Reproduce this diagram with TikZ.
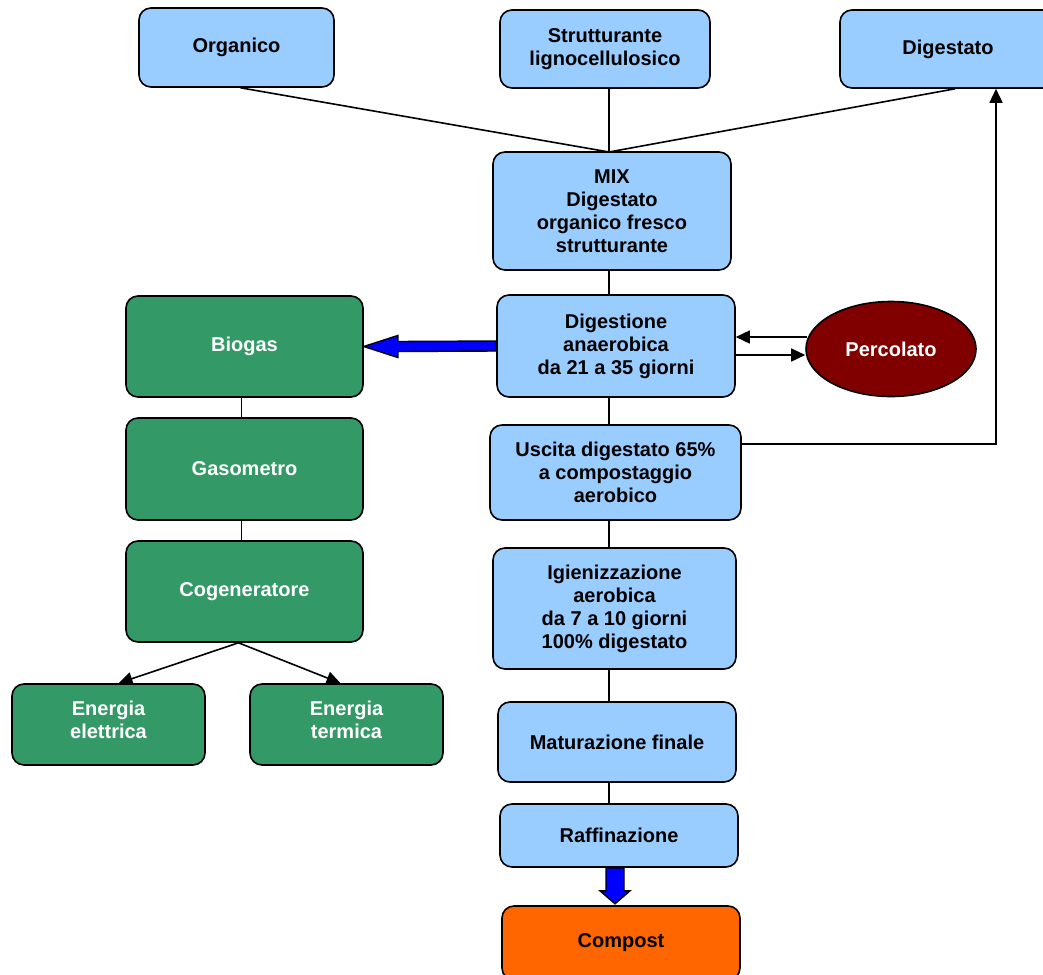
\documentclass[tikz,border=0pt]{standalone}
\usepackage{fontspec}
\setmainfont{Liberation Sans}
\usetikzlibrary{calc, arrows.meta, shapes.geometric}
\definecolor{cielo}{HTML}{99CCFF}
\definecolor{verde}{HTML}{339966}
\definecolor{bordeaux}{HTML}{800000}
\definecolor{arancio}{HTML}{FF6600}

\begin{document}
\begin{tikzpicture}[x=0.5pt, y=-0.5pt, line width=0.8pt,
    >={Triangle[length=7pt, width=6.5pt]},
    box/.style={draw, rounded corners=6pt, align=center, inner sep=0pt,
      font=\bfseries\fontsize{10}{11.5}\selectfont},
    sz/.style 2 args={minimum width=#1*0.5pt, minimum height=#2*0.5pt},
    fase/.style={box, fill=cielo},
    energia/.style={box, fill=verde, text=white},
    freccia/.style={draw=black, fill=blue, line width=0.7pt}]
  \useasboundingbox (0, 0) rectangle (1043, 974);
  % ingressi
  \node[fase, sz={195}{79}] (org) at (236.5, 47.5) {Organico};
  \node[fase, sz={210}{78}] (str) at (605, 49) {Strutturante\\lignocellulosico};
  \node[fase, sz={216}{78}] (dgt) at (948, 49) {Digestato};
  % linea centrale
  \node[fase, sz={238}{118}] (mix) at (612, 211) {MIX\\Digestato\\organico fresco\\strutturante};
  \node[fase, sz={238}{102}] (dig) at (616, 346) {Digestione\\anaerobica\\da 21 a 35 giorni};
  \node[ellipse, draw, fill=bordeaux, text=white, minimum width=85pt, minimum height=47.5pt,
    inner sep=0pt, font=\bfseries\fontsize{10}{11.5}\selectfont] (perc) at (891, 349) {Percolato};
  \node[fase, sz={251}{95}] (usc) at (615.5, 472.5) {Uscita digestato 65\%\\a compostaggio\\aerobico};
  \node[fase, sz={243}{121}] (igi) at (614.5, 608.5) {Igienizzazione\\aerobica\\da 7 a 10 giorni\\100\% digestato};
  \node[fase, sz={238}{80}] (mat) at (617, 742) {Maturazione finale};
  \node[fase, sz={238}{63}] (raf) at (619, 835.5) {Raffinazione};
  \node[box, fill=arancio, sz={238}{74}] (cmp) at (621, 943) {Compost};
  % ramo biogas
  \node[energia, sz={237}{101}] (bio) at (244.5, 346.5) {Biogas};
  \node[energia, sz={237}{102}] (gas) at (244.5, 469) {Gasometro};
  \node[energia, sz={237}{101}] (cog) at (244.5, 591.5) {Cogeneratore};
  \node[energia, sz={193}{81}] (ele) at (108.5, 724.5) {Energia\\elettrica\rule[-5pt]{0pt}{5pt}};
  \node[energia, sz={193}{81}] (ter) at (346.5, 724.5) {Energia\\termica\rule[-5pt]{0pt}{5pt}};

  \coordinate (j) at (609, 152);
  \draw ($(org.south)+(4, 0)$) -- (j);
  \draw (j |- str.south) -- (j);
  \draw ($(dgt.south)+(7, 0)$) -- (j);
  \draw (j |- mix.south) -- (j |- dig.north);
  \draw (j |- dig.south) -- (j |- usc.north);
  \draw (j |- usc.south) -- (j |- igi.north);
  \draw (j |- igi.south) -- (j |- mat.north);
  \draw (j |- mat.south) -- (j |- raf.north);
  \draw[->] ($(perc.west)+(2, -12)$) -- ($(dig.east)+(0, -9)$);
  \draw[->] ($(dig.east)+(0, 9)$) -- ($(perc.west)+(0, 6)$);
  \draw[->] ($(usc.east)+(0, -28.5)$) -| ($(dgt.south)+(48, 0)$);
  \draw[freccia] ($(dig.west)+(0, -5)$) -- ($(bio.east)+(34, -5)$) -- ($(bio.east)+(34, -11)$)
    -- (bio.east) -- ($(bio.east)+(34, 11)$) -- ($(bio.east)+(34, 5)$) -- ($(dig.west)+(0, 5)$) -- cycle;
  \draw[freccia] ($(raf.south)+(-13, 0)$) -- ($(raf.south)+(-13, 23)$) -- ($(raf.south)+(-19, 23)$)
    -- ($(raf.south)+(-4, 36)$) -- ($(raf.south)+(11, 23)$) -- ($(raf.south)+(5, 23)$)
    -- ($(raf.south)+(5, 0)$) -- cycle;
  \draw ($(bio.south)+(-3, 0)$) -- ($(gas.north)+(-3, 0)$);
  \draw ($(gas.south)+(-3, 0)$) -- ($(cog.north)+(-3, 0)$);
  \draw[->] ($(cog.south)+(-6, 0)$) -- ($(ele.north)+(10, 0)$);
  \draw[->] ($(cog.south)+(-6, 0)$) -- ($(ter.north)+(-6, 0)$);
\end{tikzpicture}
\end{document}
